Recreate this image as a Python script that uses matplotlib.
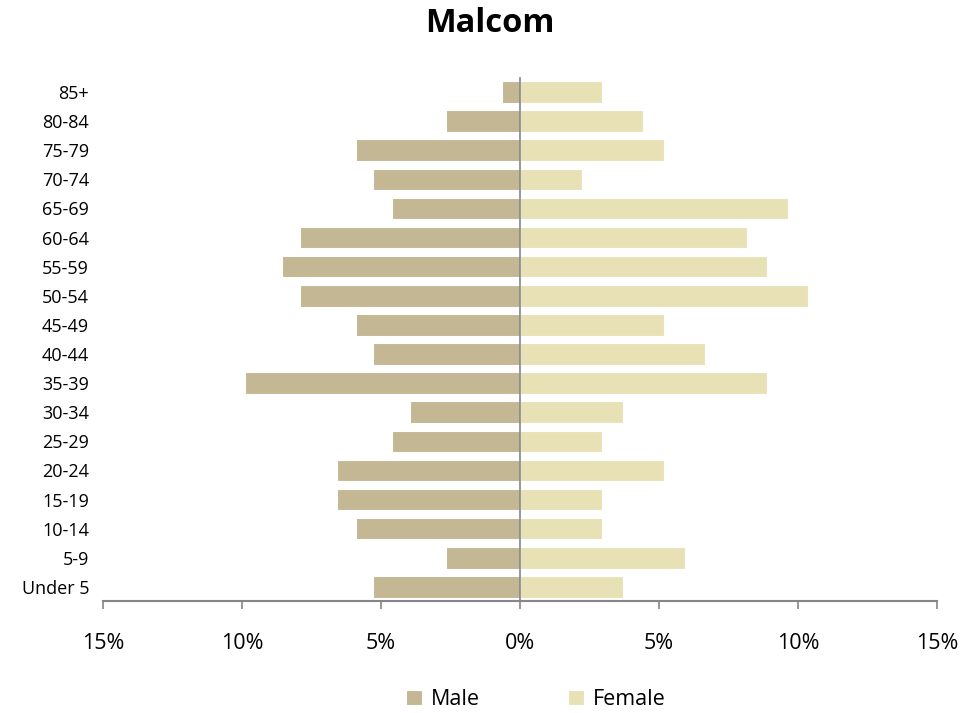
import numpy as np
import matplotlib
matplotlib.use("Agg")
import matplotlib.pyplot as plt
from matplotlib.ticker import FuncFormatter

# ── Data (percent of each sex) ───────────────────────────────────────────────
AGE_GROUPS = ["Under 5", "5-9", "10-14", "15-19", "20-24", "25-29", "30-34",
              "35-39", "40-44", "45-49", "50-54", "55-59", "60-64", "65-69",
              "70-74", "75-79", "80-84", "85+"]
male   = [5.3, 2.65, 5.9, 6.6, 6.6, 4.6, 3.95, 9.9, 5.3, 5.9,
          7.9, 8.55, 7.9, 4.6, 5.3, 5.9, 2.65, 0.66]
female = [3.7, 5.93, 2.96, 2.96, 5.19, 2.96, 3.7, 8.89, 6.67, 5.19,
          10.37, 8.89, 8.15, 9.63, 2.22, 5.19, 4.44, 2.96]

MALE_C, FEMALE_C = "#C4B793", "#E9E1B6"
AXIS_C = "#868686"

plt.rcParams["font.family"] = ["Open Sans", "DejaVu Sans"]

fig = plt.figure(figsize=(9.79, 7.13), dpi=100)
ax = fig.add_axes([0.1052, 0.1564, 0.852, 0.735])

y = np.arange(len(AGE_GROUPS))
h = 0.74
ax.barh(y, -np.array(male), h, color=MALE_C, edgecolor="white", linewidth=0.8, label="Male")
ax.barh(y, female, h, color=FEMALE_C, edgecolor="white", linewidth=0.8, label="Female")

ax.set_xlim(-15, 15)
ax.set_ylim(-0.5, len(AGE_GROUPS) - 0.5)
ax.axvline(0, color=AXIS_C, lw=1.2)

ax.set_yticks(y)
ax.set_yticklabels(AGE_GROUPS, fontsize=13)
ax.tick_params(axis="y", length=0, pad=10)

ax.set_xticks(np.arange(-15, 16, 5))
ax.xaxis.set_major_formatter(FuncFormatter(lambda v, _: f"{abs(v):.0f}%"))
ax.tick_params(axis="x", length=6, width=1.2, color=AXIS_C, labelsize=15.5, pad=17)

for s in ["top", "left", "right"]:
    ax.spines[s].set_visible(False)
ax.spines["bottom"].set_color(AXIS_C)
ax.spines["bottom"].set_linewidth(1.5)

fig.suptitle("Malcom", fontsize=23.5, fontweight="bold", y=0.99)

fig.legend(loc="lower center", bbox_to_anchor=(0.547, -0.023), ncol=2, frameon=False,
           fontsize=15.5, handlelength=0.75, handleheight=0.75, columnspacing=4.1,
           handletextpad=0.4)

fig.savefig("out.png", dpi=100)
